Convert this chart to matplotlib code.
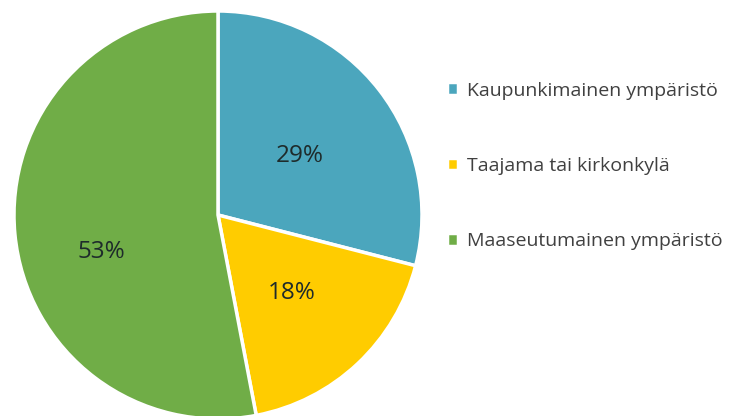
import matplotlib.pyplot as plt

categories = ['Kaupunkimainen ympäristö', 'Taajama tai kirkonkylä', 'Maaseutumainen ympäristö']
shares = [29, 18, 53]
colors = ['#4BA6BD', '#FFCC00', '#70AD47']

plt.rcParams['font.family'] = ['Open Sans', 'DejaVu Sans']

fig = plt.figure(figsize=(7.38, 4.16), dpi=100)
# pie: centre ~ (218, 215) px, radius ~204 px
r_px = 204
ax = fig.add_axes([(218 - r_px) / 738, (416 - 215 - r_px) / 416, 2 * r_px / 738, 2 * r_px / 416])

wedges, texts = ax.pie(shares, colors=colors, startangle=90, counterclock=False,
                       radius=1, wedgeprops=dict(edgecolor='white', linewidth=2.5),
                       labels=[f'{s}%' for s in shares], labeldistance=0.5,
                       textprops=dict(fontsize=17.5, color='#1E2B2B'))
for w in wedges:
    w.set_clip_on(False)
# Excel-like best-fit positions for the slice labels
texts[0].set_position((0.40, 0.29))
texts[1].set_position((0.36, -0.38))
texts[2].set_position((-0.57, -0.18))
for t in texts:
    t.set_ha('center')
    t.set_va('center')
ax.set_xlim(-1, 1)
ax.set_ylim(-1, 1)
ax.axis('off')

leg = fig.legend(wedges, categories, loc='upper left', bbox_to_anchor=(429 / 738, 1 - 64 / 416),
                 frameon=False, fontsize=14, labelspacing=2.95, handlelength=0.6, handleheight=0.6,
                 handletextpad=0.45, labelcolor='#404040')

fig.savefig('out.png', dpi=100)
